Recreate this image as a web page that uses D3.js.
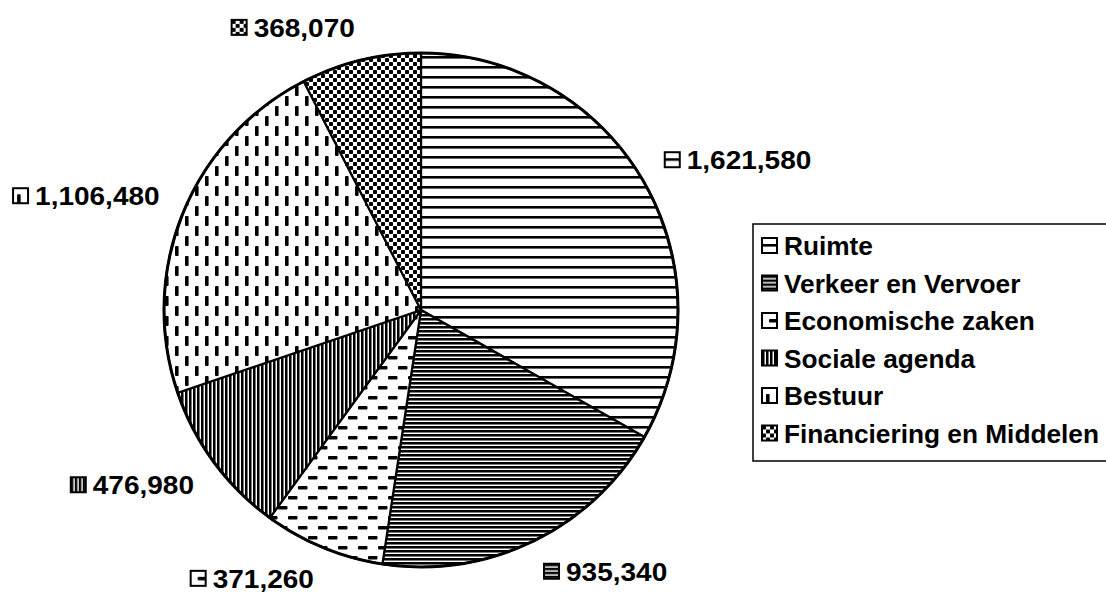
<!DOCTYPE html>
<html>
<head>
<meta charset="utf-8">
<script src="https://cdn.jsdelivr.net/npm/d3@7"></script>
<style>
  body { margin: 0; background: #fff; }
  text { font-family: "Liberation Sans", Arial, sans-serif; font-weight: bold; fill: #000; }
</style>
</head>
<body>
<div id="chart"></div>
<script>
const categories = ["Ruimte", "Verkeer en Vervoer", "Economische zaken", "Sociale agenda", "Bestuur", "Financiering en Middelen"];
const values = [1621580, 935340, 371260, 476980, 1106480, 368070];
const patternIds = ["pHoriz", "pHorizDense", "pDashH", "pVertDense", "pDashV", "pDots"];

const w = 1106,
    h = 594,
    cx = 421,
    cy = 310,
    r = 257,
    fontSize = 25,
    stretch = 1.12,
    legendStretch = 1.05;

const svg = d3.select("#chart")
    .append("svg")
    .attr("width", w)
    .attr("height", h)
    .style("display", "block");

svg.append("rect").attr("width", w).attr("height", h).attr("fill", "#fff");

// fill patterns
const defs = svg.append("defs");

function pattern(id, pw, ph) {
    let p = defs.append("pattern")
        .attr("id", id)
        .attr("patternUnits", "userSpaceOnUse")
        .attr("width", pw)
        .attr("height", ph);
    p.append("rect").attr("width", pw).attr("height", ph).attr("fill", "#fff");
    return p;
}

let p = pattern("pHoriz", 10, 10);
p.append("rect").attr("x", 0).attr("y", 6).attr("width", 10).attr("height", 2.6).attr("fill", "#000");

p = pattern("pHorizDense", 4, 4);
p.append("rect").attr("x", 0).attr("y", 0).attr("width", 4).attr("height", 2).attr("fill", "#000");
p.append("rect").attr("x", 0).attr("y", 2).attr("width", 4).attr("height", 1).attr("fill", "#777");

p = pattern("pDashH", 20, 20);
[[7, 6], [-3, 16], [17, 16]].forEach(function (d) {
    p.append("rect").attr("x", d[0]).attr("y", d[1]).attr("width", 9.5).attr("height", 3.5)
        .attr("rx", 1).attr("fill", "#000");
});

p = pattern("pVertDense", 4, 4);
p.append("rect").attr("x", 0).attr("y", 0).attr("width", 2).attr("height", 4).attr("fill", "#000");
p.append("rect").attr("x", 2).attr("y", 0).attr("width", 1).attr("height", 4).attr("fill", "#777");

p = pattern("pDashV", 20, 20);
[[4, 6], [14, -4], [14, 16]].forEach(function (d) {
    p.append("rect").attr("x", d[0]).attr("y", d[1]).attr("width", 3.6).attr("height", 10)
        .attr("rx", 1).attr("fill", "#000");
});

p = pattern("pDots", 8, 8);
[[0, 0], [4, 4]].forEach(function (d) {
    p.append("rect").attr("x", d[0]).attr("y", d[1]).attr("width", 4).attr("height", 4)
        .attr("rx", 0.8).attr("fill", "#000");
});

// pie
const pie = d3.pie().sort(null).value(function (d) { return d; });
const arcs = pie(values);
const arc = d3.arc().innerRadius(0).outerRadius(r);

const g = svg.append("g").attr("transform", "translate(" + cx + "," + cy + ")");

g.selectAll("path.slice")
    .data(arcs)
    .enter()
    .append("path")
    .attr("class", "slice")
    .attr("d", arc)
    .attr("fill", function (d, i) { return "url(#" + patternIds[i] + ")"; })
    .attr("stroke", "#000")
    .attr("stroke-width", 2.2)
    .attr("stroke-linejoin", "round");

g.append("circle").attr("r", r).attr("fill", "none").attr("stroke", "#000").attr("stroke-width", 3);

const fmt = d3.format(",");

function swatch(sel, i) {
    sel.append("rect")
        .attr("x", 0).attr("y", 0)
        .attr("width", 15).attr("height", 15)
        .attr("fill", "url(#" + patternIds[i] + ")")
        .attr("stroke", "#000")
        .attr("stroke-width", 2);
}

// data labels
const labelR = r + 25;
arcs.forEach(function (d, i) {
    let a = (d.startAngle + d.endAngle) / 2;
    let ax = cx + labelR * Math.sin(a);
    let ay = cy - labelR * Math.cos(a);
    let my = ay + 8 * Math.sign(-Math.cos(a));

    let lab = svg.append("g").attr("class", "label");
    let ic = lab.append("g").attr("transform", "translate(0," + (my - 8) + ")");
    swatch(ic, i);
    let tg = lab.append("g").attr("transform", "translate(22," + (my + 9) + ") scale(" + stretch + ",1)");
    let t = tg.append("text").attr("font-size", fontSize).text(fmt(values[i]));
    let tw = t.node().getComputedTextLength() * stretch + 22;
    let x0 = Math.sin(a) >= 0 ? ax : ax - tw;
    lab.attr("transform", "translate(" + x0 + ",0)");
});

// legend
const lg = svg.append("g").attr("transform", "translate(753,224)");
lg.append("rect")
    .attr("width", 420).attr("height", 237)
    .attr("fill", "#fff").attr("stroke", "#000").attr("stroke-width", 1.5);

categories.forEach(function (c, i) {
    let row = lg.append("g").attr("transform", "translate(9," + (i * 37.5) + ")");
    let ic = row.append("g").attr("transform", "translate(0,14)");
    swatch(ic, i);
    row.append("g")
        .attr("transform", "translate(22,31) scale(" + legendStretch + ",1)")
        .append("text")
        .attr("font-size", fontSize)
        .text(c);
});
</script>
</body>
</html>
